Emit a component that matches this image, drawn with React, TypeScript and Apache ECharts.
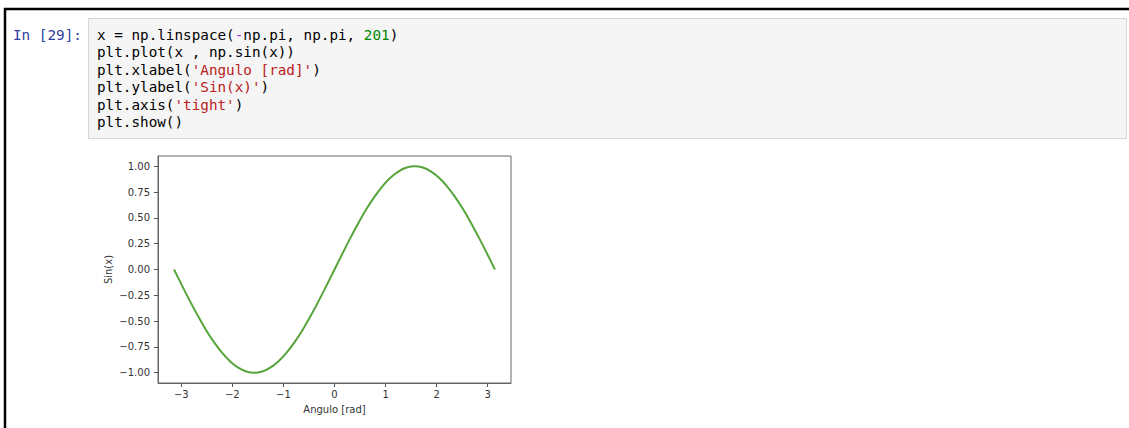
import React, { useEffect, useRef } from "react";
import * as echarts from "echarts";

// x samples (rad) and sin(x) values
const xValues = [
  -3.142, -2.985, -2.827, -2.670, -2.513, -2.356, -2.199, -2.042, -1.885, -1.728,
  -1.571, -1.414, -1.257, -1.100, -0.942, -0.785, -0.628, -0.471, -0.314, -0.157,
  0.0, 0.157, 0.314, 0.471, 0.628, 0.785, 0.942, 1.100, 1.257, 1.414,
  1.571, 1.728, 1.885, 2.042, 2.199, 2.356, 2.513, 2.670, 2.827, 2.985, 3.142,
];
const sinValues = [
  0.0, -0.156, -0.309, -0.454, -0.588, -0.707, -0.809, -0.891, -0.951, -0.988,
  -1.0, -0.988, -0.951, -0.891, -0.809, -0.707, -0.588, -0.454, -0.309, -0.156,
  0.0, 0.156, 0.309, 0.454, 0.588, 0.707, 0.809, 0.891, 0.951, 0.988,
  1.0, 0.988, 0.951, 0.891, 0.809, 0.707, 0.588, 0.454, 0.309, 0.156, 0.0,
];
const xTicks = [-3, -2, -1, 0, 1, 2, 3];
const yTicks = [-1, -0.75, -0.5, -0.25, 0, 0.25, 0.5, 0.75, 1];
const xRange = [-3.456, 3.456];
const yRange = [-1.1, 1.1];

const promptText = "In [29]:";
// code lines as [text, tokenStyle] segments
const codeLines: [string, string][][] = [
  [["x = np.linspace(", "k"], ["-", "o"], ["np.pi, np.pi, ", "k"], ["201", "n"], [")", "k"]],
  [["plt.plot(x , np.sin(x))", "k"]],
  [["plt.xlabel(", "k"], ["'Angulo [rad]'", "s"], [")", "k"]],
  [["plt.ylabel(", "k"], ["'Sin(x)'", "s"], [")", "k"]],
  [["plt.axis(", "k"], ["'tight'", "s"], [")", "k"]],
  [["plt.show()", "k"]],
];

const MONO = "'DejaVu Sans Mono', monospace";
const SANS = "'DejaVu Sans', sans-serif";
const minus = (s: string) => s.replace(/-/g, "\u2212");

export default function App() {
  const ref = useRef<HTMLDivElement>(null);
  useEffect(() => {
    if (!ref.current) return;
    const chart = echarts.init(ref.current, undefined, { renderer: "svg" });
    const codeFont = 14.3;
    const rich = {
      k: { fill: "#000000", fontFamily: MONO, fontSize: codeFont },
      o: { fill: "#AA22FF", fontFamily: MONO, fontSize: codeFont },
      n: { fill: "#008800", fontFamily: MONO, fontSize: codeFont },
      s: { fill: "#BA2121", fontFamily: MONO, fontSize: codeFont },
    };
    const codeGraphics = codeLines.map((line, i) => ({
      type: "text",
      x: 97,
      y: 35 + i * 17.4,
      style: {
        text: line.map(([t, c]) => `{${c}|${t}}`).join(""),
        rich,
        verticalAlign: "middle",
        fontFamily: MONO,
        fontSize: codeFont,
      },
    }));
    chart.setOption({
      animation: false,
      backgroundColor: "#ffffff",
      grid: {
        left: 158,
        right: 618,
        top: 156,
        bottom: 45,
        show: true,
        borderColor: "#666666",
        borderWidth: 1,
        backgroundColor: "transparent",
      },
      xAxis: {
        type: "value",
        min: xRange[0],
        max: xRange[1],
        name: "Angulo [rad]",
        nameLocation: "middle",
        nameGap: 21,
        nameTextStyle: { color: "#333333", fontFamily: SANS, fontSize: 10 },
        splitLine: { show: false },
        axisLine: { show: true, onZero: false, lineStyle: { color: "#666666" } },
        axisTick: { show: true, inside: false, length: 4, customValues: xTicks, lineStyle: { color: "#555555" } },
        axisLabel: {
          customValues: xTicks,
          margin: 6,
          color: "#333333",
          fontFamily: SANS,
          fontSize: 10,
          formatter: (v: number) => minus(String(v)),
        },
      },
      yAxis: {
        type: "value",
        min: yRange[0],
        max: yRange[1],
        name: "Sin(x)",
        nameLocation: "middle",
        nameGap: 45,
        nameRotate: 90,
        nameTextStyle: { color: "#333333", fontFamily: SANS, fontSize: 10 },
        splitLine: { show: false },
        axisLine: { show: true, onZero: false, lineStyle: { color: "#666666" } },
        axisTick: { show: true, inside: false, length: 4, customValues: yTicks, lineStyle: { color: "#555555" } },
        axisLabel: {
          customValues: yTicks,
          margin: 8,
          color: "#333333",
          fontFamily: SANS,
          fontSize: 10,
          formatter: (v: number) => minus(v.toFixed(2)),
        },
      },
      series: [
        {
          type: "line",
          data: xValues.map((x, i) => [x, sinValues[i]]),
          showSymbol: false,
          smooth: 0.3,
          lineStyle: { color: "#55a53b", width: 2 },
          itemStyle: { color: "#55a53b" },
        },
      ],
      graphic: [
        // notebook cell border (black)
        { type: "rect", shape: { x: 5, y: 9, width: 1130, height: 430 }, style: { fill: "none", stroke: "#000000", lineWidth: 2.5 }, silent: true },
        // code input box
        { type: "rect", shape: { x: 88.5, y: 18.5, width: 1038, height: 120 }, style: { fill: "#f5f5f5", stroke: "#d6d6d6", lineWidth: 1 }, silent: true },
        {
          type: "text",
          x: 13,
          y: 35,
          style: { text: promptText, fill: "#303F9F", fontFamily: MONO, fontSize: codeFont, verticalAlign: "middle" },
        },
        ...codeGraphics,
      ],
    });
    return () => chart.dispose();
  }, []);
  return (
    <div
      ref={ref}
      style={{ position: "absolute", left: 0, top: 0, width: 1129, height: 428 }}
    />
  );
}
